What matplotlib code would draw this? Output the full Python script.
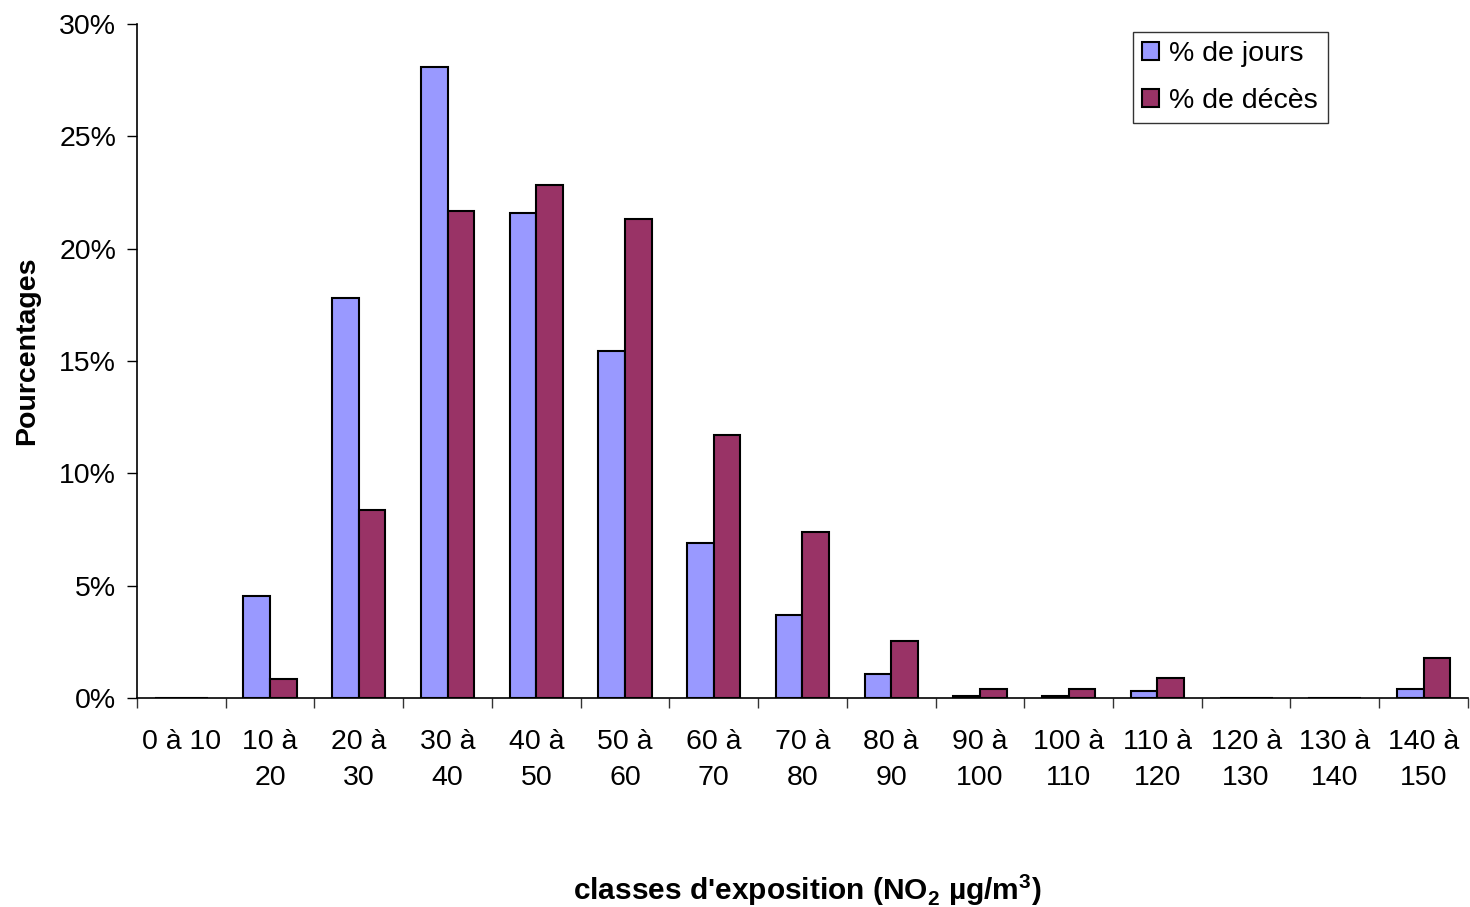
import matplotlib
matplotlib.use("Agg")
import matplotlib.pyplot as plt
import numpy as np
from matplotlib.ticker import FuncFormatter

plt.rcParams['font.family'] = ['Liberation Sans', 'DejaVu Sans']
plt.rcParams['mathtext.fontset'] = 'custom'
plt.rcParams['mathtext.rm'] = 'Liberation Sans:bold'
plt.rcParams['mathtext.bf'] = 'Liberation Sans:bold'

classes = ["0 à 10", "10 à\n20", "20 à\n30", "30 à\n40", "40 à\n50", "50 à\n60",
           "60 à\n70", "70 à\n80", "80 à\n90", "90 à\n100", "100 à\n110",
           "110 à\n120", "120 à\n130", "130 à\n140", "140 à\n150"]
jours = [0, 4.55, 17.8, 28.1, 21.6, 15.45, 6.9, 3.7, 1.07, 0.1, 0.1, 0.3, 0, 0, 0.4]
deces = [0, 0.85, 8.35, 21.7, 22.85, 21.3, 11.7, 7.4, 2.55, 0.4, 0.4, 0.88, 0, 0, 1.78]

fs = 20.5
fig = plt.figure(figsize=(14.7, 9.07), dpi=100)
ax = fig.add_axes([0.0932, 0.2304, 0.9054, 0.7431])

x = np.arange(len(classes))
w = 0.3
ax.bar(x - w/2, jours, w, color='#9999FF', edgecolor='black', linewidth=1.5, label='% de jours')
ax.bar(x + w/2, deces, w, color='#993366', edgecolor='black', linewidth=1.5, label='% de décès')

ax.set_xlim(-0.5, len(classes) - 0.5)
ax.set_ylim(0, 30)
ax.set_yticks(np.arange(0, 31, 5))
ax.yaxis.set_major_formatter(FuncFormatter(lambda v, p: '%d%%' % v))
ax.set_xticks(x)
ax.set_xticklabels(classes, fontsize=fs, linespacing=1.5, va='top')
# ticks between the classes, labels in the middle
ax.set_xticks(np.arange(-0.5, len(classes), 1), minor=True)
ax.tick_params(axis='x', which='major', length=0, pad=22)
ax.tick_params(axis='x', which='minor', length=7, width=1, color='#333333')
ax.tick_params(axis='y', labelsize=fs, length=7, width=1, pad=8)

for s in ['top', 'right']:
    ax.spines[s].set_visible(False)
ax.spines['left'].set_linewidth(1.2)
ax.spines['bottom'].set_linewidth(1.2)

fig.text(0.0184, 0.613, 'Pourcentages', fontsize=fs, fontweight='bold',
         rotation=90, ha='center', va='center')
fig.text(0.549, 0.019, "classes d'exposition (NO$_2$ µg/m$^3$)", fontsize=21.5,
         fontweight='bold', ha='center', va='center')

leg = ax.legend(loc='upper left', bbox_to_anchor=(0.7707, 0.9647),
                bbox_transform=fig.transFigure, fontsize=fs, frameon=True,
                fancybox=False, edgecolor='black', handlelength=0.6, handleheight=0.6,
                handletextpad=0.35, borderpad=0.33, labelspacing=0.72, borderaxespad=0)
leg.get_frame().set_linewidth(1)

fig.savefig('out.png', dpi=100)
